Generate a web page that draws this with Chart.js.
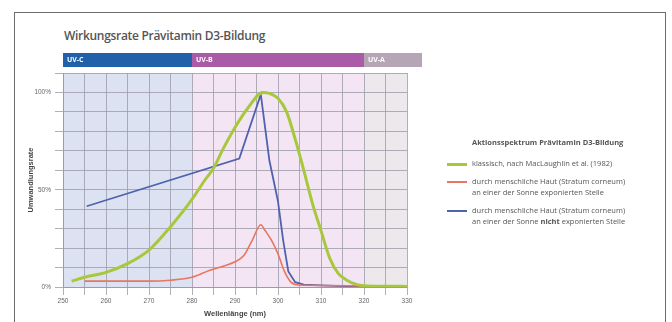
<!DOCTYPE html>
<html>
<head>
<meta charset="utf-8">
<script src="https://cdn.jsdelivr.net/npm/chart.js@4.4.1/dist/chart.umd.min.js"></script>
<style>
body { margin: 0; background: #fff; font-family: "Open Sans", sans-serif; }
#wrap { position: relative; width: 672px; height: 322px; overflow: hidden; }
#frame { position: absolute; left: 14px; top: 12px; width: 650px; height: 340px; border: 1px solid #6e6e6e; }
#title { position: absolute; left: 64px; top: 27px; font-size: 12px; font-weight: 600; color: #555; letter-spacing: -0.3px; }
#legend { position: absolute; left: 447px; top: 137px; font-size: 7.5px; color: #555; line-height: 10.5px; }
#legend .head { font-weight: 700; margin-left: 25px; margin-bottom: 10px; }
#legend .row { display: flex; margin-bottom: 8px; }
#legend .sw { width: 20px; margin-right: 5px; margin-top: 5px; flex: none; }
canvas { position: absolute; left: 0; top: 0; }
</style>
</head>
<body>
<div id="wrap">
  <div id="frame"></div>
  <div id="title">Wirkungsrate Prävitamin D3-Bildung</div>
  <canvas id="chart" width="672" height="322"></canvas>
  <div id="legend">
    <div class="head">Aktionsspektrum Prävitamin D3-Bildung</div>
    <div class="row"><div class="sw" style="height:3px;background:#a8c83c"></div><div>klassisch, nach MacLaughlin et al. (1982)</div></div>
    <div class="row"><div class="sw" style="height:1.5px;background:#e9765e"></div><div>durch menschliche Haut (Stratum corneum)<br>an einer der Sonne exponierten Stelle</div></div>
    <div class="row"><div class="sw" style="height:2px;background:#4f62ad"></div><div>durch menschliche Haut (Stratum corneum)<br>an einer der Sonne <b>nicht</b> exponierten Stelle</div></div>
  </div>
</div>
<script>
// wavelengths (nm) and conversion rate (%)
var greenNm  = [252, 255, 260, 265, 270, 275, 280, 283, 285, 287, 290, 293, 296.5, 298, 300, 302, 304, 306, 308, 310, 312, 314, 316, 318, 320, 325, 330];
var greenVal = [3, 5, 7.5, 12, 19, 31, 45, 55, 61, 70, 82, 92, 100, 99.5, 97, 90, 76, 60, 43, 29, 15, 7, 3.5, 1.5, 0.7, 0.4, 0.3];

var redNm  = [255, 260, 265, 270, 275, 280, 284, 290, 292, 294, 296, 297, 298.5, 300, 301.5, 303, 305, 310, 320];
var redVal = [3, 3, 3, 3, 3.5, 5, 8.5, 13, 16, 24, 32, 29, 24, 17, 8, 2.5, 1, 0.8, 0.5];

var blueNm  = [255.5, 291, 296, 298, 300, 301.2, 302.4, 304, 306, 310, 315, 320];
var blueVal = [41.5, 66, 99, 65, 44, 24, 8, 2.5, 1.2, 0.8, 0.5, 0.3];

// UV bands
var bandNames  = ['UV-C', 'UV-B', 'UV-A'];
var bandStart  = [250, 280, 320];
var bandEnd    = [280, 320, 333.5];
var bandColors = ['#2161aa', '#a95ba8', '#b5a5b5'];
var bandBg     = ['#dde2f3', '#f3e5f3', '#ece8ec'];

function pts(xs, ys) {
  var out = [];
  for (var i = 0; i < xs.length; i++) out.push({x: xs[i], y: ys[i]});
  return out;
}

var bands = {
  id: 'bands',
  beforeDraw: function(chart) {
    var ctx = chart.ctx, a = chart.chartArea, xs = chart.scales.x;
    ctx.save();
    for (var i = 0; i < bandNames.length; i++) {
      var x1 = xs.getPixelForValue(bandStart[i]);
      var x2 = Math.min(xs.getPixelForValue(bandEnd[i]), a.right);
      ctx.fillStyle = bandBg[i];
      ctx.fillRect(x1, a.top, x2 - x1, a.bottom - a.top);
    }
    ctx.restore();
  },
  afterDraw: function(chart) {
    var ctx = chart.ctx, xs = chart.scales.x;
    ctx.save();
    for (var i = 0; i < bandNames.length; i++) {
      var x1 = xs.getPixelForValue(bandStart[i]);
      var x2 = xs.getPixelForValue(bandEnd[i]);
      ctx.fillStyle = bandColors[i];
      ctx.fillRect(x1, 53, x2 - x1, 14);
      ctx.fillStyle = '#fff';
      ctx.font = 'bold 7px "Open Sans"';
      ctx.textBaseline = 'middle';
      ctx.fillText(bandNames[i], x1 + 4, 60);
    }
    ctx.restore();
  }
};

new Chart(document.getElementById('chart'), {
  type: 'line',
  data: {
    datasets: [
      { label: 'klassisch', data: pts(greenNm, greenVal), borderColor: '#a8c83c', borderWidth: 3, pointRadius: 0, cubicInterpolationMode: 'monotone' },
      { label: 'exponiert', data: pts(redNm, redVal), borderColor: '#e9765e', borderWidth: 1.6, pointRadius: 0, cubicInterpolationMode: 'monotone' },
      { label: 'nicht exponiert', data: pts(blueNm, blueVal), borderColor: '#4f62ad', borderWidth: 1.8, pointRadius: 0, tension: 0 }
    ]
  },
  options: {
    responsive: false,
    animation: false,
    layout: { padding: { left: 14, top: 73, right: 265, bottom: 0 } },
    plugins: { legend: { display: false }, tooltip: { enabled: false } },
    scales: {
      x: {
        type: 'linear', min: 250, max: 330,
        afterFit: function(s) { s.height = 35; },
        grid: { color: '#9d9aab', lineWidth: 0.8 },
        border: { color: '#9d9aab' },
        ticks: {
          stepSize: 5, autoSkip: false, maxRotation: 0, padding: 2,
          color: '#666', font: { size: 6.5 },
          callback: function(v) { return v % 10 === 0 ? v : ''; }
        },
        title: { display: true, text: 'Wellenlänge (nm)', color: '#444', font: { size: 7.5, weight: 'bold' }, padding: { top: 10 } }
      },
      y: {
        min: 0, max: 110,
        afterFit: function(s) { s.width = 49; },
        grid: { color: '#9d9aab', lineWidth: 0.8 },
        border: { color: '#9d9aab' },
        ticks: {
          stepSize: 10, padding: 4, color: '#666', font: { size: 6.5 },
          callback: function(v) { return v % 50 === 0 ? v + '%' : ''; }
        },
        title: { display: true, text: 'Umwandlungsrate', color: '#444', font: { size: 7.5, weight: 'bold' }, padding: { top: 12, bottom: 0 } }
      }
    }
  },
  plugins: [bands]
});
</script>
</body>
</html>
